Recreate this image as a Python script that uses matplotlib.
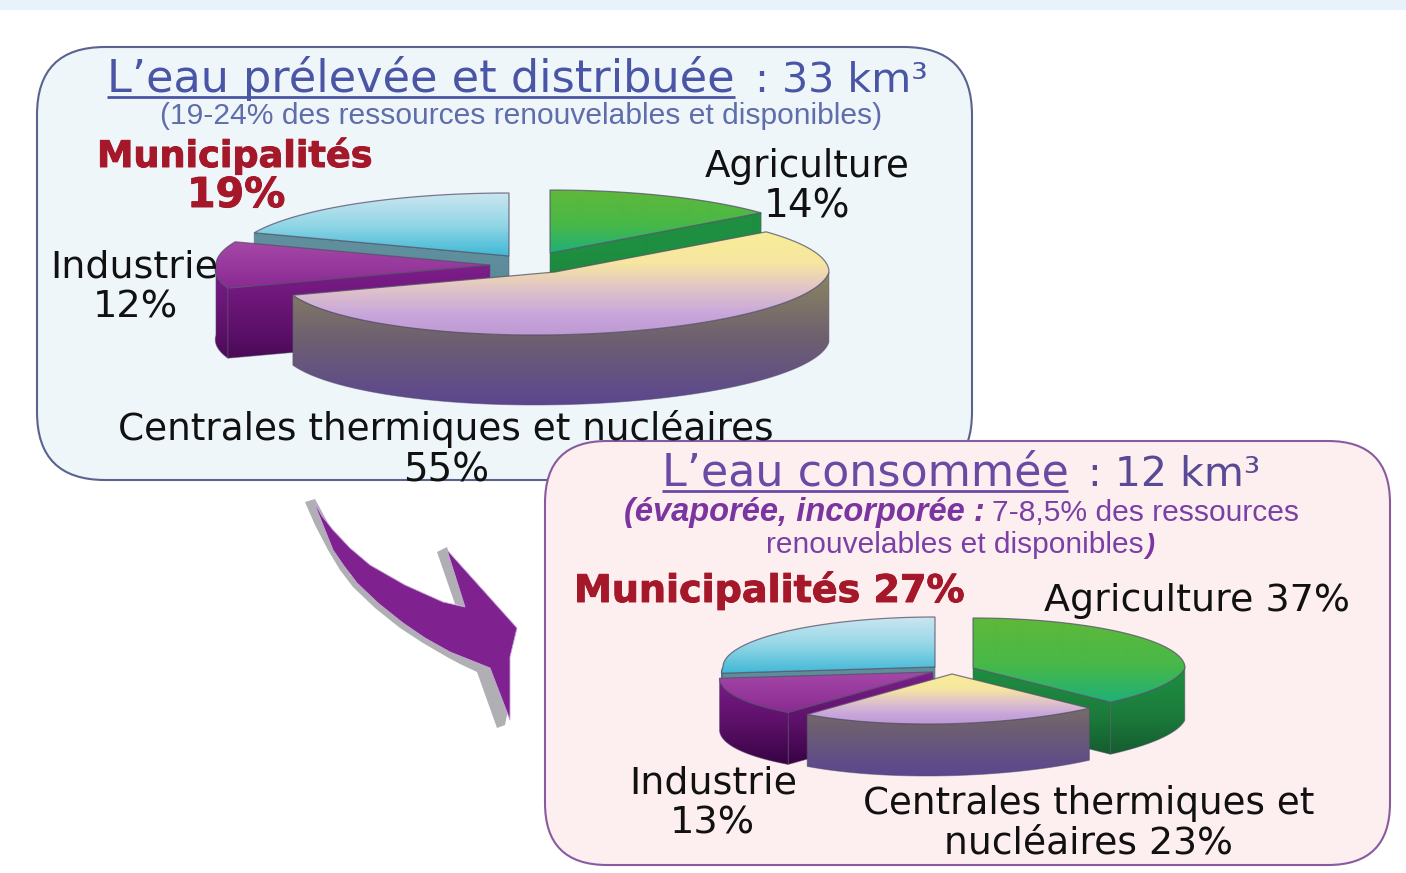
import numpy as np
import matplotlib
matplotlib.use("Agg")
import matplotlib.pyplot as plt
import matplotlib.patheffects as pe
from matplotlib.patches import Polygon, FancyBboxPatch, Rectangle
from matplotlib.colors import to_rgb

# ---- data ----
categories = ["Agriculture", "Centrales thermiques et nucléaires", "Industrie", "Municipalités"]
withdrawn_pct = [14, 55, 12, 19]
consumed_pct = [37, 23, 13, 27]

# ---- styles ----
TOP = {
    "Agriculture": [(0, "#5fb83a"), (.55, "#48b848"), (1, "#1fb078")],
    "Centrales thermiques et nucléaires": [(0, "#f8ee98"), (.3, "#f6e6a0"), (.55, "#e0c4c8"), (.8, "#c8a6dc"), (1, "#bd9ad2")],
    "Industrie": [(0, "#a548a8"), (1, "#8a2a92")],
    "Municipalités": [(0, "#cbe6f0"), (.5, "#93d6e6"), (1, "#3fb8d6")],
}
SIDE = {
    "Agriculture": [(0, "#1e8f40"), (.45, "#1c7c3c"), (1, "#12502a")],
    "Centrales thermiques et nucléaires": [(0, "#8c8660"), (.5, "#6e6070"), (1, "#5c4690")],
    "Industrie": [(0, "#7f1e8c"), (.5, "#5c1068"), (1, "#30003c")],
    "Municipalités": [(0, "#5f8f9c"), (1, "#4c7c8c")],
}
EDGE = "#55506a"
W, H = 1406, 873

fig = plt.figure(figsize=(14.06, 8.73), dpi=100, facecolor="white")
ax = fig.add_axes([0, 0, 1, 1])
ax.set_xlim(0, W)
ax.set_ylim(H, 0)
ax.axis("off")
renderer = fig.canvas.get_renderer()


def gradient(stops, y0, y1, poly, z):
    """Fill polygon poly with a vertical gradient from y0 to y1, clamped outside."""
    t = np.clip((np.arange(H) + .5 - y0) / (y1 - y0), 0, 1)
    pos = [s[0] for s in stops]
    rgb = np.array([to_rgb(s[1]) for s in stops])
    col = np.stack([np.interp(t, pos, rgb[:, i]) for i in range(3)], axis=1)[:, None, :]
    im = ax.imshow(col, extent=(0, W, H, 0), origin="upper", aspect="auto",
                   interpolation="bilinear", zorder=z)
    clip = Polygon(poly, closed=True, transform=ax.transData)
    im.set_clip_path(clip)
    ax.set_xlim(0, W)
    ax.set_ylim(H, 0)


def outline(poly, z, color=EDGE, lw=0.9, alpha=0.75):
    ax.add_patch(Polygon(poly, closed=True, fill=False, edgecolor=color, lw=lw, alpha=alpha, zorder=z))


def pie3d(values, geom, order, rx, ry, h, shear, z0):
    edges = np.cumsum([0] + list(values)) * 360.0 / sum(values)
    for k, name in enumerate(order):
        i = categories.index(name)
        a0, a1 = edges[i], edges[i + 1]
        cx, cy = geom[name]

        def pt(deg):
            th = np.radians(deg)
            return (cx + rx * np.sin(th) + shear * np.minimum(np.cos(th), 0),
                    cy - ry * np.cos(th))

        th = np.linspace(a0, a1, 160)
        xs, ys = pt(th)
        arc = np.column_stack([xs, ys])
        apex = np.array([cx, cy])
        top = np.vstack([apex, arc])
        z = z0 + k
        y0, y1 = cy, cy + ry + h
        # radial cut faces: only those turned towards the viewer
        visible = []
        if np.sin(np.radians(a0)) < -1e-6:
            visible.append(a0)
        if np.sin(np.radians(a1)) > 1e-6:
            visible.append(a1)
        for deg in visible:
            p = np.array(pt(deg))
            face = np.array([apex, p, p + [0, h], apex + [0, h]])
            gradient(SIDE[name], y0, y1, face, z)
            outline(face, z + .2, lw=.7, alpha=.5)
        # outer wall (front half of the rim only)
        front = (th > 90) & (th < 270)
        if front.any():
            a = arc[front]
            wall = np.vstack([a, (a + [0, h])[::-1]])
            gradient(SIDE[name], y0, y1, wall, z + .3)
            outline(wall, z + .35, lw=.7, alpha=.5)
        # top face
        gradient(TOP[name], min(ys.min(), cy), max(ys.max(), cy), top, z + .5)
        outline(top, z + .6)


def label(s, x0, x1, base, color="#111111", family="DejaVu Sans", heavy=False, **kw):
    t = ax.text(x0, base, s, ha="left", va="baseline", color=color, family=family,
                fontsize=20, zorder=60, **kw)
    w = t.get_window_extent(renderer).width
    t.set_fontsize(20 * (x1 - x0) / w)
    if heavy:
        t.set_path_effects([pe.withStroke(linewidth=0.7, foreground=color)])
    return t


# background strip
ax.add_patch(Rectangle((0, 0), W, 10, facecolor="#e8f2fb", edgecolor="none", zorder=1))

# ---- upper panel ----
ax.add_patch(FancyBboxPatch((37, 47), 935, 433, boxstyle="round,pad=0,rounding_size=68",
                            facecolor="#eef6fa", edgecolor="#5a6290", lw=1.5, zorder=2))
label("L’eau prélevée et distribuée", 107, 735, 92, color="#4a55a5")
ax.plot([107, 735], [97, 97], color="#4a55a5", lw=2, zorder=60, solid_capstyle="butt")
label(": 33 km³", 755, 928, 92, color="#4a55a5")
label("(19-24% des ressources renouvelables et disponibles)", 160, 883, 124,
      color="#5f6dab", family="Liberation Sans")
label("Municipalités", 97, 373, 167, color="#a5182a", weight="bold", heavy=True)
label("19%", 187, 285, 207, color="#a5182a", weight="bold", heavy=True)
label("Agriculture", 705, 910, 177)
label("14%", 764, 850, 217)
label("Industrie", 50, 218, 277)
label("12%", 93, 178, 317)
label("Centrales thermiques et nucléaires", 118, 775, 440)
label("55%", 403, 489, 481)

pie3d(withdrawn_pct,
      {"Agriculture": (550, 253), categories[1]: (555, 272), "Industrie": (490, 265), "Municipalités": (509, 256)},
      ["Municipalités", "Agriculture", "Industrie", categories[1]],
      rx=274, ry=63, h=70, shear=20, z0=10)

# ---- arrow ----
ax.add_patch(Polygon([(305, 502), (315, 499), (340, 545), (350, 575), (400, 610), (450, 645), (490, 665),
                      (510, 700), (505, 725), (497, 728), (477, 672), (460, 664), (447, 657), (423, 643),
                      (400, 628), (375, 608), (353, 587), (340, 570), (328, 550), (315, 525)],
                     closed=True, facecolor="#b0b0b4", edgecolor="none", zorder=3))
ax.add_patch(Polygon([(437, 552), (447, 547), (467, 608), (455, 604)],
                     closed=True, facecolor="#b0b0b4", edgecolor="none", zorder=3))
ax.add_patch(Polygon([(313, 500), (322, 516), (333, 530), (350, 548), (370, 565), (405, 585), (443, 602), (465, 607),
                      (447, 550), (517, 628), (510, 657), (510, 720), (490, 668), (470, 660), (450, 652),
                      (425, 638), (403, 623), (378, 603), (357, 583), (344, 566), (333, 550)],
                     closed=True, facecolor="#7f2290", edgecolor="#c8a8d8", lw=.6, zorder=4))

# ---- lower panel ----
ax.add_patch(FancyBboxPatch((545, 441), 845, 424, boxstyle="round,pad=0,rounding_size=62",
                            facecolor="#fdeff0", edgecolor="#8a5aa0", lw=1.5, zorder=40))
label("L’eau consommée", 662, 1068, 486, color="#6a4aa5")
ax.plot([662, 1068], [491, 491], color="#6a4aa5", lw=2, zorder=60, solid_capstyle="butt")
label(": 12 km³", 1088, 1260, 486, color="#5a4a95")
label("(évaporée, incorporée :", 624, 984, 521, color="#7a35a0", weight="bold", style="italic",
      family="Liberation Sans")
label("7-8,5% des ressources", 992, 1298, 521, color="#7a40a5", family="Liberation Sans")
label("renouvelables et disponibles", 766, 1143, 553, color="#7a40a5", family="Liberation Sans")
label(")", 1145, 1154, 553, color="#7a35a0", weight="bold", style="italic", family="Liberation Sans")
label("Municipalités 27%", 574, 965, 602, color="#a5182a", weight="bold", heavy=True)
label("Agriculture 37%", 1044, 1350, 611)
label("Industrie", 629, 797, 793)
label("13%", 670, 755, 834)
label("Centrales thermiques et", 863, 1315, 814)
label("nucléaires 23%", 944, 1233, 854)

pie3d(consumed_pct,
      {"Agriculture": (973, 668), categories[1]: (952, 674), "Industrie": (933, 672), "Municipalités": (935, 667)},
      ["Municipalités", "Industrie", "Agriculture", categories[1]],
      rx=212, ry=50, h=52, shear=25, z0=42)

fig.savefig("out.png", dpi=100, facecolor="white")
